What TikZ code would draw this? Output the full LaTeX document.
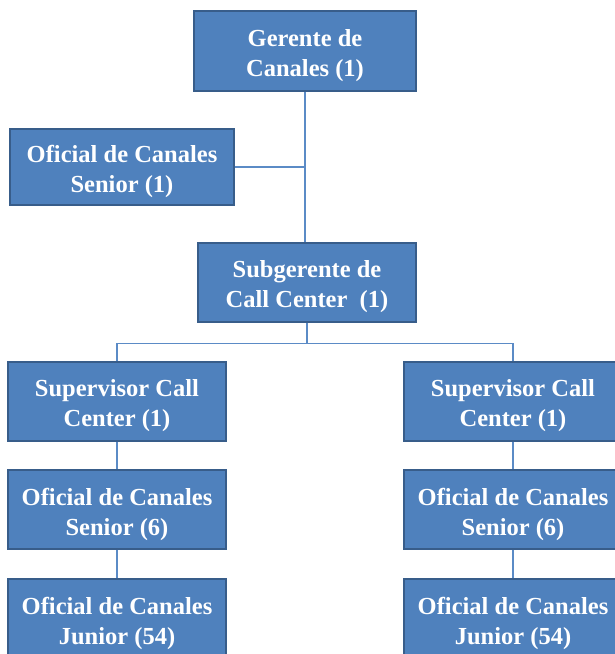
\documentclass[tikz,border=0pt]{standalone}
\usepackage{fontspec}
\setmainfont{Liberation Serif}
\usetikzlibrary{calc}
\definecolor{boxfill}{HTML}{4F81BD}
\definecolor{boxline}{HTML}{385D8A}
\definecolor{linkline}{HTML}{5B8BC6}
\tikzset{
	cargo/.style={draw=boxline, line width=1.4pt, fill=boxfill, inner sep=0pt,
		minimum width=218pt, minimum height=79pt},
	rotulo/.style={text=white, align=center, inner sep=0pt, yshift=-4.5pt,
		font=\bfseries\fontsize{24.5}{30}\selectfont},
	link/.style={draw=linkline, line width=1.1pt}
}
\def\puesto[#1](#2)(#3)#4{\node[cargo, #1, label={[rotulo]center:{#4}}] (#2) at (#3) {};}

\begin{document}
\begin{tikzpicture}[x=1pt, y=-1pt]
		%%%%% START %%%%%
		\useasboundingbox (0, 0) rectangle (614, 654);
		
		\puesto[minimum width=222pt, minimum height=80pt](gerente)(305, 51){Gerente de\\Canales (1)}
		\puesto[minimum width=224pt, minimum height=76pt](oficial)(122, 167){Oficial de Canales\\Senior (1)}
		\puesto[](subgerente)(307, 282.5){Subgerente de\\Call Center \ (1)}
		
		\puesto[](supizq)(117, 401.5){Supervisor Call\\Center (1)}
		\puesto[](supder)(513, 401.5){Supervisor Call\\Center (1)}
		
		\puesto[](senizq)(117, 509.5){Oficial de Canales\\Senior (6)}
		\puesto[](sender)(513, 509.5){Oficial de Canales\\Senior (6)}
		
		\puesto[](junizq)(117, 618.5){Oficial de Canales\\Junior (54)}
		\puesto[](junder)(513, 618.5){Oficial de Canales\\Junior (54)}
		
		\draw[link] (gerente.south) -- (gerente.south |- subgerente.north);
		\draw[link] (oficial.east) -- (oficial.east -| gerente.south);
		
		\coordinate (bus) at ($(subgerente.south)+(0, 21)$);
		\draw[link] (subgerente.south) -- (bus);
		\draw[link] (supizq.north) |- (bus) -| (supder.north);
		
		\draw[link] (supizq.south) -- (senizq.north);
		\draw[link] (senizq.south) -- (junizq.north);
		\draw[link] (supder.south) -- (sender.north);
		\draw[link] (sender.south) -- (junder.north);
		%%%%% END %%%%%
	\end{tikzpicture}
\end{document}
